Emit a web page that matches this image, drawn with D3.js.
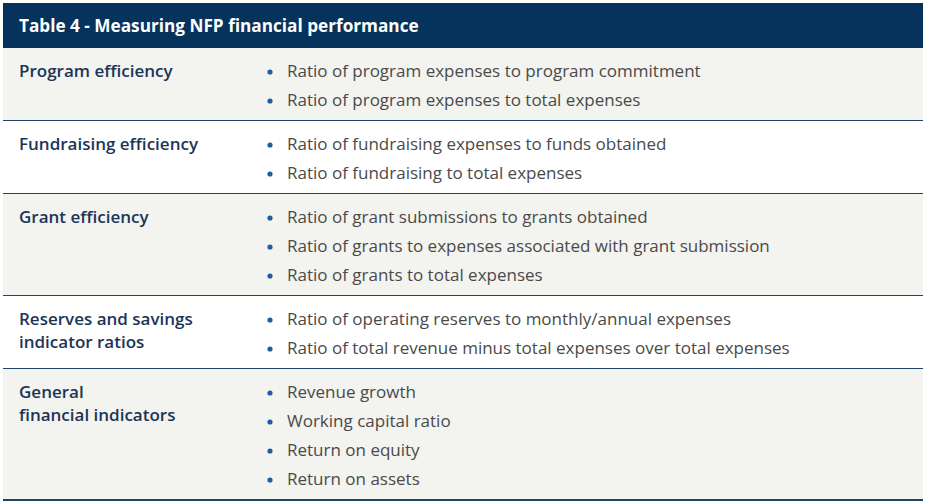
<!DOCTYPE html>
<html>
<head>
<meta charset="utf-8">
<script src="https://cdn.jsdelivr.net/npm/d3@7"></script>
<style>
  body { margin: 0; background: #fff; }
  svg { display: block; font-family: "Open Sans", Lato, sans-serif; }
</style>
</head>
<body>
<svg id="table_svg"></svg>
<script>
// table content
const title = "Table 4 - Measuring NFP financial performance";
const categories = [
    ["Program efficiency"],
    ["Fundraising efficiency"],
    ["Grant efficiency"],
    ["Reserves and savings", "indicator ratios"],
    ["General", "financial indicators"]
];
const items = [
    ["Ratio of program expenses to program commitment",
     "Ratio of program expenses to total expenses"],
    ["Ratio of fundraising expenses to funds obtained",
     "Ratio of fundraising to total expenses"],
    ["Ratio of grant submissions to grants obtained",
     "Ratio of grants to expenses associated with grant submission",
     "Ratio of grants to total expenses"],
    ["Ratio of operating reserves to monthly/annual expenses",
     "Ratio of total revenue minus total expenses over total expenses"],
    ["Revenue growth",
     "Working capital ratio",
     "Return on equity",
     "Return on assets"]
];

const width = 927;
const height = 504;
const left = 3, right = 923;
const headTop = 3, headH = 45;
const lineH = 29, rowPad = 15;

const svg = d3.select("#table_svg")
    .attr("width", width)
    .attr("height", height);

// row boundaries from item counts
let rows = [];
let y0 = headTop + headH;
items.forEach(function(list, i){
    let h = rowPad + lineH * list.length;
    rows.push({top: y0, h: h, cat: categories[i], items: list, i: i});
    y0 += h;
});

svg.append("rect")
    .attr("x", left).attr("y", headTop)
    .attr("width", right - left).attr("height", headH)
    .attr("fill", "#05335c");

svg.append("text")
    .attr("x", 19).attr("y", headTop + headH / 2 + 2)
    .attr("dominant-baseline", "middle")
    .attr("fill", "#fff")
    .attr("font-weight", "bold")
    .attr("font-size", 17.2)
    .text(title);

let g = svg.selectAll("g.row")
    .data(rows)
    .join("g")
    .attr("class", "row")
    .attr("transform", function(d){ return `translate(0,${d.top})`; });

g.append("rect")
    .attr("x", left).attr("width", right - left)
    .attr("height", function(d){ return d.h; })
    .attr("fill", function(d){ return d.i % 2 == 0 ? "#f3f3ef" : "#ffffff"; });

g.append("line")
    .attr("x1", left).attr("x2", right)
    .attr("y1", function(d){ return d.h; })
    .attr("y2", function(d){ return d.h; })
    .attr("stroke", "#1e4468")
    .attr("stroke-width", 2);

// category labels
g.selectAll("text.cat")
    .data(function(d){ return d.cat; })
    .join("text")
    .attr("class", "cat")
    .attr("x", 19)
    .attr("y", function(d, j){ return 24 + j * 23; })
    .attr("dominant-baseline", "middle")
    .attr("fill", "#1c3556")
    .attr("font-weight", 600)
    .attr("font-size", 17)
    .text(function(d){ return d; });

// bullets
g.selectAll("circle")
    .data(function(d){ return d.items; })
    .join("circle")
    .attr("cx", 270)
    .attr("cy", function(d, j){ return 24 + j * lineH; })
    .attr("r", 2.6)
    .attr("fill", "#1f5ca6");

g.selectAll("text.item")
    .data(function(d){ return d.items; })
    .join("text")
    .attr("class", "item")
    .attr("x", 287)
    .attr("y", function(d, j){ return 24 + j * lineH; })
    .attr("dominant-baseline", "middle")
    .attr("fill", "#4a4a4a")
    .attr("font-size", 17)
    .text(function(d){ return d; });
</script>
</body>
</html>
